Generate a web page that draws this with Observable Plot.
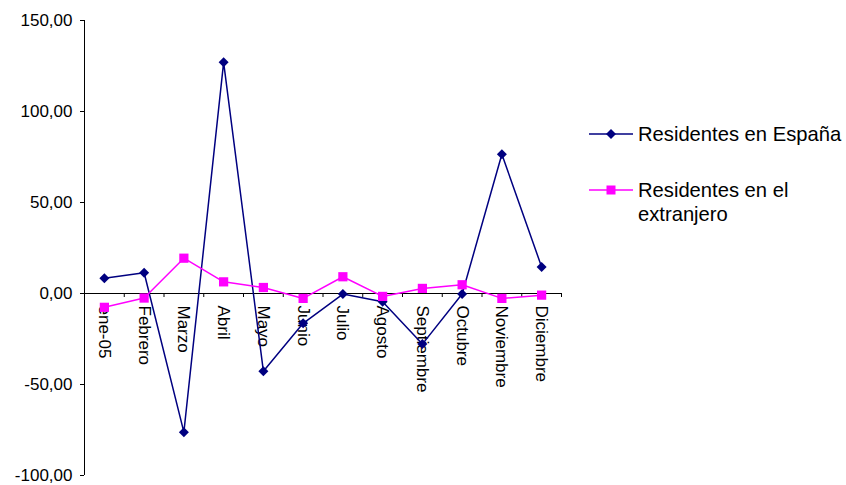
<!DOCTYPE html>
<html><head><meta charset="utf-8">
<script src="https://cdn.jsdelivr.net/npm/d3@7"></script>
<script src="https://cdn.jsdelivr.net/npm/@observablehq/plot@0.6"></script>
<style>
body{margin:0;background:#fff;font-family:"Liberation Sans",Arial,sans-serif;}
#wrap{position:relative;width:846px;height:485px;background:#fff;}
.sym{position:absolute;left:589px;width:44px;height:12px;}
.ltext{position:absolute;left:638px;font-size:20.2px;line-height:24px;color:#000;white-space:nowrap;}
</style></head><body><div id="wrap"></div><script>
const months = ["ene-05","Febrero","Marzo","Abril","Mayo","Junio","Julio","Agosto","Septiembre","Octubre","Noviembre","Diciembre"];
const espana = [8.4, 11.4, -76.2, 127.0, -42.7, -16.4, -0.3, -4.5, -27.8, -0.3, 76.5, 14.6];
const extranjero = [-7.6, -2.5, 19.4, 6.4, 3.3, -2.7, 9.2, -1.6, 2.8, 4.8, -2.7, -0.9];
const yTicks = [-100, -50, 0, 50, 100, 150];
const seriesNames = ["Residentes en España", "Residentes en el extranjero"];
const colors = ["#000080", "#FF00FF"];

const idx = months.map((_, i) => i);
const bounds = d3.range(1, months.length + 1).map(i => i - 0.5);
const fmt = d => d.toFixed(2).replace(".", ",");

const plot = Plot.plot({
  width: 846, height: 485,
  marginLeft: 84, marginRight: 285, marginTop: 20, marginBottom: 10,
  style: {fontFamily: '"Liberation Sans", Arial, sans-serif', fontSize: "17px", color: "#000", background: "#fff"},
  x: {domain: [-0.5, months.length - 0.5], axis: null},
  y: {domain: [-100, 150], axis: null},
  marks: [
    Plot.axisY({ticks: yTicks, tickFormat: fmt, tickSize: 4, tickPadding: 8, fontSize: 17}),
    Plot.ruleX([-0.5], {stroke: "#000"}),
    Plot.ruleY([0], {stroke: "#000"}),
    Plot.ruleX(bounds, {x: d => d, y1: 0, y2: -2.2, stroke: "#000"}),
    Plot.text(idx, {x: d => d, y: 0, text: d => months[d], rotate: 90, textAnchor: "start", lineAnchor: "middle", dy: 12, fontSize: 17, fill: "#000"}),
    Plot.line(idx, {x: d => d, y: d => espana[d], stroke: colors[0], strokeWidth: 1.5}),
    Plot.dot(idx, {x: d => d, y: d => espana[d], symbol: "diamond2", r: 4.5, fill: colors[0], stroke: "none"}),
    Plot.line(idx, {x: d => d, y: d => extranjero[d], stroke: colors[1], strokeWidth: 1.5}),
    Plot.dot(idx, {x: d => d, y: d => extranjero[d], symbol: "square", r: 5.2, fill: colors[1], stroke: "none"})
  ]
});
const wrap = document.getElementById("wrap");
wrap.appendChild(plot);

// legend
const rows = [{y: 134, color: colors[0], shape: "diamond", text: "Residentes en España"},
              {y: 190, color: colors[1], shape: "square", text: "Residentes en el<br>extranjero"}];
rows.forEach(r => {
  const s = document.createElementNS("http://www.w3.org/2000/svg", "svg");
  s.setAttribute("class", "sym");
  s.setAttribute("width", 44); s.setAttribute("height", 12);
  s.style.top = (r.y - 6) + "px";
  let inner = `<line x1="0" x2="44" y1="6" y2="6" stroke="${r.color}" stroke-width="1.5"/>`;
  if (r.shape === "diamond") inner += `<path d="M22,1L27,6L22,11L17,6Z" fill="${r.color}"/>`;
  else inner += `<rect x="17.5" y="1.5" width="9" height="9" fill="${r.color}"/>`;
  s.innerHTML = inner;
  wrap.appendChild(s);
  const t = document.createElement("div");
  t.className = "ltext";
  t.style.top = (r.y - 12) + "px";
  t.innerHTML = r.text;
  wrap.appendChild(t);
});
</script></body></html>
